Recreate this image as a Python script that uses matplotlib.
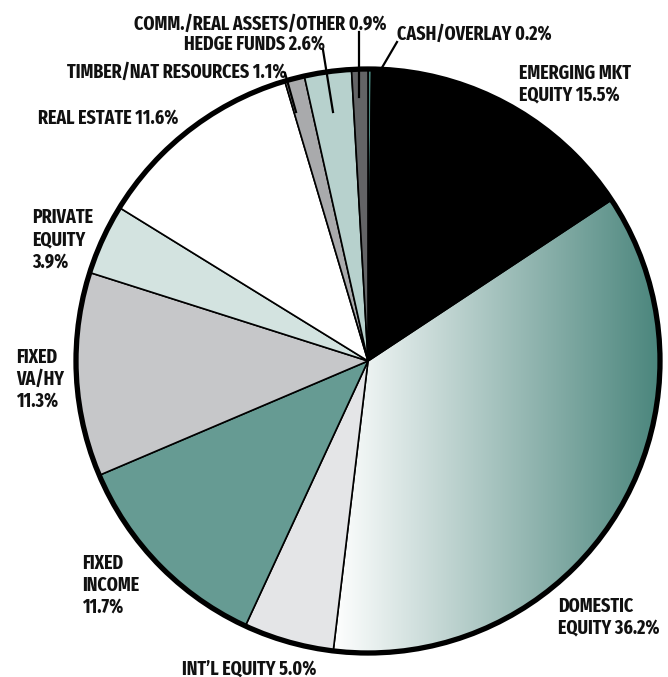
import numpy as np
import matplotlib
matplotlib.use("Agg")
import matplotlib.pyplot as plt
from matplotlib.colors import LinearSegmentedColormap
from matplotlib.patches import Circle

# allocation, clockwise from 12 o'clock
names = ["CASH/OVERLAY", "EMERGING MKT\nEQUITY", "DOMESTIC\nEQUITY", "INT\u2019L EQUITY",
         "FIXED\nINCOME\n", "FIXED\nVA/HY\n", "PRIVATE\nEQUITY\n", "REAL ESTATE",
         "TIMBER/NAT RESOURCES", "HEDGE FUNDS", "COMM./REAL ASSETS/OTHER"]
shares = [0.2, 15.5, 36.2, 5.0, 11.7, 11.3, 3.9, 11.6, 1.1, 2.6, 0.9]
colors = ["#4a877f", "#000000", "#ffffff", "#e4e5e7", "#669b93", "#c6c7c9",
          "#d3e3e0", "#ffffff", "#a9aaac", "#b7d1cd", "#636466"]

W, H = 668, 677
fig = plt.figure(figsize=(W / 100, H / 100), dpi=100)
ax = fig.add_axes([0, 0, 1, 1])

cx, cy, r = 368, H - 361, 292
wedges, _ = ax.pie(shares, colors=colors, startangle=90, counterclock=False,
                   radius=r, center=(cx, cy), frame=True,
                   wedgeprops=dict(edgecolor="black", linewidth=1.2))
ax.set_xlim(0, W); ax.set_ylim(0, H); ax.axis("off"); ax.set_aspect("auto")

# domestic equity: white -> teal horizontal gradient clipped to its wedge
dom = wedges[2]
dom.set_facecolor("none")
cmap = LinearSegmentedColormap.from_list("dom", ["#ffffff", "#4a857c"])
grad = np.linspace(0, 1, 256).reshape(1, -1)
im = ax.imshow(grad, cmap=cmap, aspect="auto", zorder=dom.get_zorder() - 0.1,
               extent=(cx - 0.12 * r, cx + r, cy - r, cy + 0.6 * r))
im.set_clip_path(dom)
ax.set_xlim(0, W); ax.set_ylim(0, H)
ax.add_patch(Circle((cx, cy), r, fill=False, edgecolor="black", linewidth=3.8, zorder=5))

font = dict(family=["Fira Sans Extra Condensed", "DejaVu Sans"], fontweight="bold",
            fontsize=14, color="#111111", zorder=6)

# label anchors: left edge, vertical centre of first line (px from top)
label_pos = [(397, 33), (519, 72), (558, 605), (182, 667), (82, 562), (16, 356),
             (32, 216), (38, 117), (67, 70.5), (184, 43), (134, 22.5)]
line_gap = 22
for name, pct, (lx, ly) in zip(names, shares, label_pos):
    if name.endswith("\n"):
        lines = name.rstrip("\n").split("\n") + ["%.1f%%" % pct]
    else:
        lines = name.split("\n")
        lines[-1] += " %.1f%%" % pct
    for i, line in enumerate(lines):
        ax.text(lx, H - (ly + 7 + i * line_gap), line, ha="left", va="baseline", **font)

# leader lines for the thin slices
leaders = [((397, 42), (373, 83)), ((359, 32), (359, 97)),
           ((323, 50), (333, 112)), ((285, 73), (296, 112))]
for (x0, y0), (x1, y1) in leaders:
    ax.plot([x0, x1], [H - y0, H - y1], color="black", lw=1.6, zorder=7)

fig.savefig("out.png", dpi=100)
